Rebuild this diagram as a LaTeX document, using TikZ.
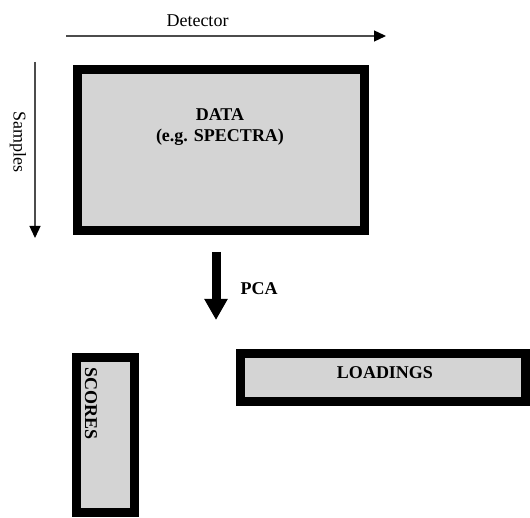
\documentclass[tikz,border=0pt]{standalone}
\usepackage{fontspec}
\setmainfont{Liberation Serif}
\usetikzlibrary{positioning}
\usetikzlibrary{arrows.meta}
\tikzset{
	matrixbox/.style={draw, line width=9pt, fill=black!17, inner sep=0pt},
	boxlabel/.style={font=\fontsize{18}{21}\selectfont\bfseries, inner sep=0pt},
	axislabel/.style={font=\fontsize{18}{21}\selectfont, inner sep=0pt},
	axisarrow/.style={draw=black!70, line width=1.3pt, -{Triangle[length=12pt, width=11pt, color=black]}},
	pcaarrow/.style={draw=black, line width=9pt, -{Triangle[length=21pt, width=22pt]}}
}

\begin{document}
\begin{tikzpicture}[x=1pt, y=-1pt]
	\useasboundingbox (0,0) rectangle (530,518);
	% axes
	\coordinate (detstart) at (66,36); \coordinate (detend) at (386,36);
	\coordinate (samstart) at (35,62); \coordinate (samend) at (35,238);
	\draw [axisarrow] (detstart) -- (detend);
	\draw [axisarrow] (samstart) -- (samend);
	\node at (197.5,21) (detector) [axislabel] {Detector};
	\node at (18,142) (samples) [axislabel, rotate=-90] {Samples};
	% data matrix
	\node at (221,150) (data) [matrixbox, minimum width=287pt, minimum height=161pt] {};
	\node at (220,127) (datatext) [boxlabel, align=center] {DATA\\(e.g. SPECTRA)};
	% decomposition
	\coordinate (pcatop) at (216,252); \coordinate (pcatip) at (216,320);
	\draw [pcaarrow] (pcatop) -- (pcatip);
	\node at (259,288.5) (pca) [boxlabel] {PCA};
	\node at (105.5,435) (scores) [matrixbox, minimum width=58pt, minimum height=155pt] {};
	\node at (91,403.5) (scorestext) [boxlabel, rotate=-90] {SCORES};
	\node at (383,377.5) (loadings) [matrixbox, minimum width=285pt, minimum height=48pt] {};
	\node at (385,373) (loadingstext) [boxlabel] {LOADINGS};
\end{tikzpicture}
\end{document}
